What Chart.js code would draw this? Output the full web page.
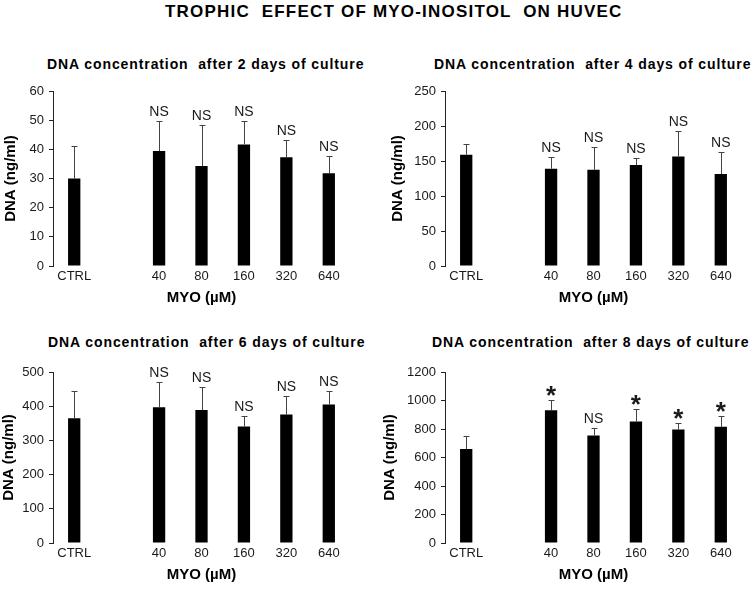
<!DOCTYPE html>
<html>
<head>
<meta charset="utf-8">
<script src="https://cdn.jsdelivr.net/npm/chart.js@4.4.0/dist/chart.umd.min.js"></script>
<style>
    body { margin: 0; background: #fff; }
    #wrap { position: relative; width: 754px; height: 592px; overflow: hidden; }
    #mainTitle {
        position: absolute; left: 165px; top: 2px;
        font: bold 17px "Liberation Sans", Arial, sans-serif; letter-spacing: 1.2px;
        white-space: pre; color: #000; line-height: 20px;
    }
    .ptitle {
        position: absolute; font: bold 14px "Liberation Sans", Arial, sans-serif;
        letter-spacing: 0.9px; white-space: pre; color: #000; line-height: 16px;
    }
    canvas { position: absolute; }
</style>
</head>
<body>
<div id="wrap">
    <div id="mainTitle">TROPHIC  EFFECT OF MYO-INOSITOL  ON HUVEC</div>
    <div class="ptitle" id="t2" style="left:47px;top:56px"></div>
    <div class="ptitle" id="t4" style="left:434px;top:56px"></div>
    <div class="ptitle" id="t6" style="left:48px;top:334px"></div>
    <div class="ptitle" id="t8" style="left:432px;top:334px"></div>
    <canvas id="c2" width="377" height="271" style="left:0;top:40px"></canvas>
    <canvas id="c4" width="377" height="271" style="left:377px;top:40px"></canvas>
    <canvas id="c6" width="377" height="268" style="left:0;top:320px"></canvas>
    <canvas id="c8" width="377" height="268" style="left:377px;top:320px"></canvas>
</div>
<script>
// categories (empty slot keeps the gap between CTRL and the doses)
const categories = ['CTRL', '', '40', '80', '160', '320', '640'];

// day 2
const day2Mean = [30, null, 39.4, 34.3, 41.7, 37.3, 31.8];
const day2Sd   = [11, null, 10.4, 14.0, 8.1, 5.9, 5.9];
const day2Sig  = ['', '', 'NS', 'NS', 'NS', 'NS', 'NS'];

// day 4
const day4Mean = [159, null, 139, 137.6, 144.2, 156.5, 131.4];
const day4Sd   = [14.7, null, 16.6, 31.8, 10.4, 36.5, 30.8];
const day4Sig  = ['', '', 'NS', 'NS', 'NS', 'NS', 'NS'];

// day 6
const day6Mean = [365, null, 397, 389, 340.5, 375.7, 405];
const day6Sd   = [79, null, 73.6, 67.6, 32.3, 52.9, 38];
const day6Sig  = ['', '', 'NS', 'NS', 'NS', 'NS', 'NS'];

// day 8
const day8Mean = [659, null, 932, 755, 853, 797, 815.5];
const day8Sd   = [89, null, 74.5, 51, 84, 44, 74.5];
const day8Sig  = ['', '', '*', 'NS', '*', '*', '*'];

const FONT = '"Liberation Sans", Arial, sans-serif';

// error bars (upper only) + significance labels
const errorBarPlugin = {
    id: 'errorBars',
    afterDatasetsDraw(chart, args, opts) {
        const ctx = chart.ctx;
        const meta = chart.getDatasetMeta(0);
        const yScale = chart.scales.y;
        ctx.save();
        meta.data.forEach(function (bar, i) {
            const mean = opts.mean[i];
            if (mean == null) return;
            const yBase = yScale.getPixelForValue(mean);
            const yTop = yScale.getPixelForValue(mean + opts.sd[i]);
            const x = Math.round(bar.x) + 0.5;
            const yt = Math.round(yTop) + 0.5;
            ctx.strokeStyle = '#444';
            ctx.lineWidth = 1;
            ctx.beginPath();
            ctx.moveTo(x, yBase);
            ctx.lineTo(x, yt);
            ctx.moveTo(x - 3, yt);
            ctx.lineTo(x + 3, yt);
            ctx.stroke();

            const label = opts.sig[i];
            if (!label) return;
            ctx.fillStyle = '#1a1a1a';
            ctx.textAlign = 'center';
            ctx.textBaseline = 'alphabetic';
            if (label === '*') {
                ctx.font = 'bold 26px ' + FONT;
                ctx.fillText(label, bar.x, yTop + 4);
            } else {
                ctx.font = '14px ' + FONT;
                ctx.fillText(label, bar.x, yTop - 5);
            }
        });
        ctx.restore();
    }
};

function makePanel(id, title, mean, sd, sig, yMax, yStep, cfg) {
    document.getElementById('t' + id.slice(1)).textContent = title;
    return new Chart(document.getElementById(id), {
        type: 'bar',
        data: {
            labels: categories,
            datasets: [{
                data: mean,
                backgroundColor: '#000',
                borderWidth: 0,
                barPercentage: 0.29,
                categoryPercentage: 1
            }]
        },
        options: {
            responsive: false,
            animation: false,
            layout: { padding: { left: 0, right: cfg.padRight, top: cfg.padTop, bottom: 0 } },
            plugins: {
                legend: { display: false },
                tooltip: { enabled: false },
                title: { display: false },
                errorBars: { mean: mean, sd: sd, sig: sig }
            },
            scales: {
                x: {
                    grid: { display: false, drawTicks: false },
                    border: { display: false },
                    ticks: { color: '#1a1a1a', font: { family: FONT, size: 13 }, padding: 3, autoSkip: false, maxRotation: 0 },
                    title: {
                        display: true, text: 'MYO (\u00b5M)', color: '#000',
                        font: { family: FONT, size: 15, weight: 'bold' },
                        padding: { top: 0, bottom: 4 }
                    },
                    afterFit: function (scale) { scale.height = 45; }
                },
                y: {
                    min: 0, max: yMax,
                    grid: { display: true, drawOnChartArea: false, drawTicks: true, tickLength: 4, color: '#222' },
                    border: { display: true, color: '#222', width: 1 },
                    ticks: {
                        stepSize: yStep, color: '#1a1a1a', font: { family: FONT, size: 13 }, padding: 5,
                        callback: function (v) { return String(v); }
                    },
                    title: {
                        display: true, text: 'DNA (ng/ml)', color: '#000',
                        font: { family: FONT, size: 15, weight: 'bold' },
                        padding: { top: cfg.yTitlePad, bottom: 0 }
                    },
                    afterFit: function (scale) { scale.width = cfg.yWidth; }
                }
            }
        },
        plugins: [errorBarPlugin]
    });
}

makePanel('c2', 'DNA concentration  after 2 days of culture', day2Mean, day2Sd, day2Sig, 60, 10,
    { padRight: 27, padTop: 51, yTitlePad: 2, yWidth: 53 });
makePanel('c4', 'DNA concentration  after 4 days of culture', day4Mean, day4Sd, day4Sig, 250, 50,
    { padRight: 12, padTop: 51, yTitlePad: 12, yWidth: 68 });
makePanel('c6', 'DNA concentration  after 6 days of culture', day6Mean, day6Sd, day6Sig, 500, 100,
    { padRight: 27, padTop: 52, yTitlePad: 0, yWidth: 53 });
makePanel('c8', 'DNA concentration  after 8 days of culture', day8Mean, day8Sd, day8Sig, 1200, 200,
    { padRight: 12, padTop: 52, yTitlePad: 4, yWidth: 68 });
</script>
</body>
</html>
